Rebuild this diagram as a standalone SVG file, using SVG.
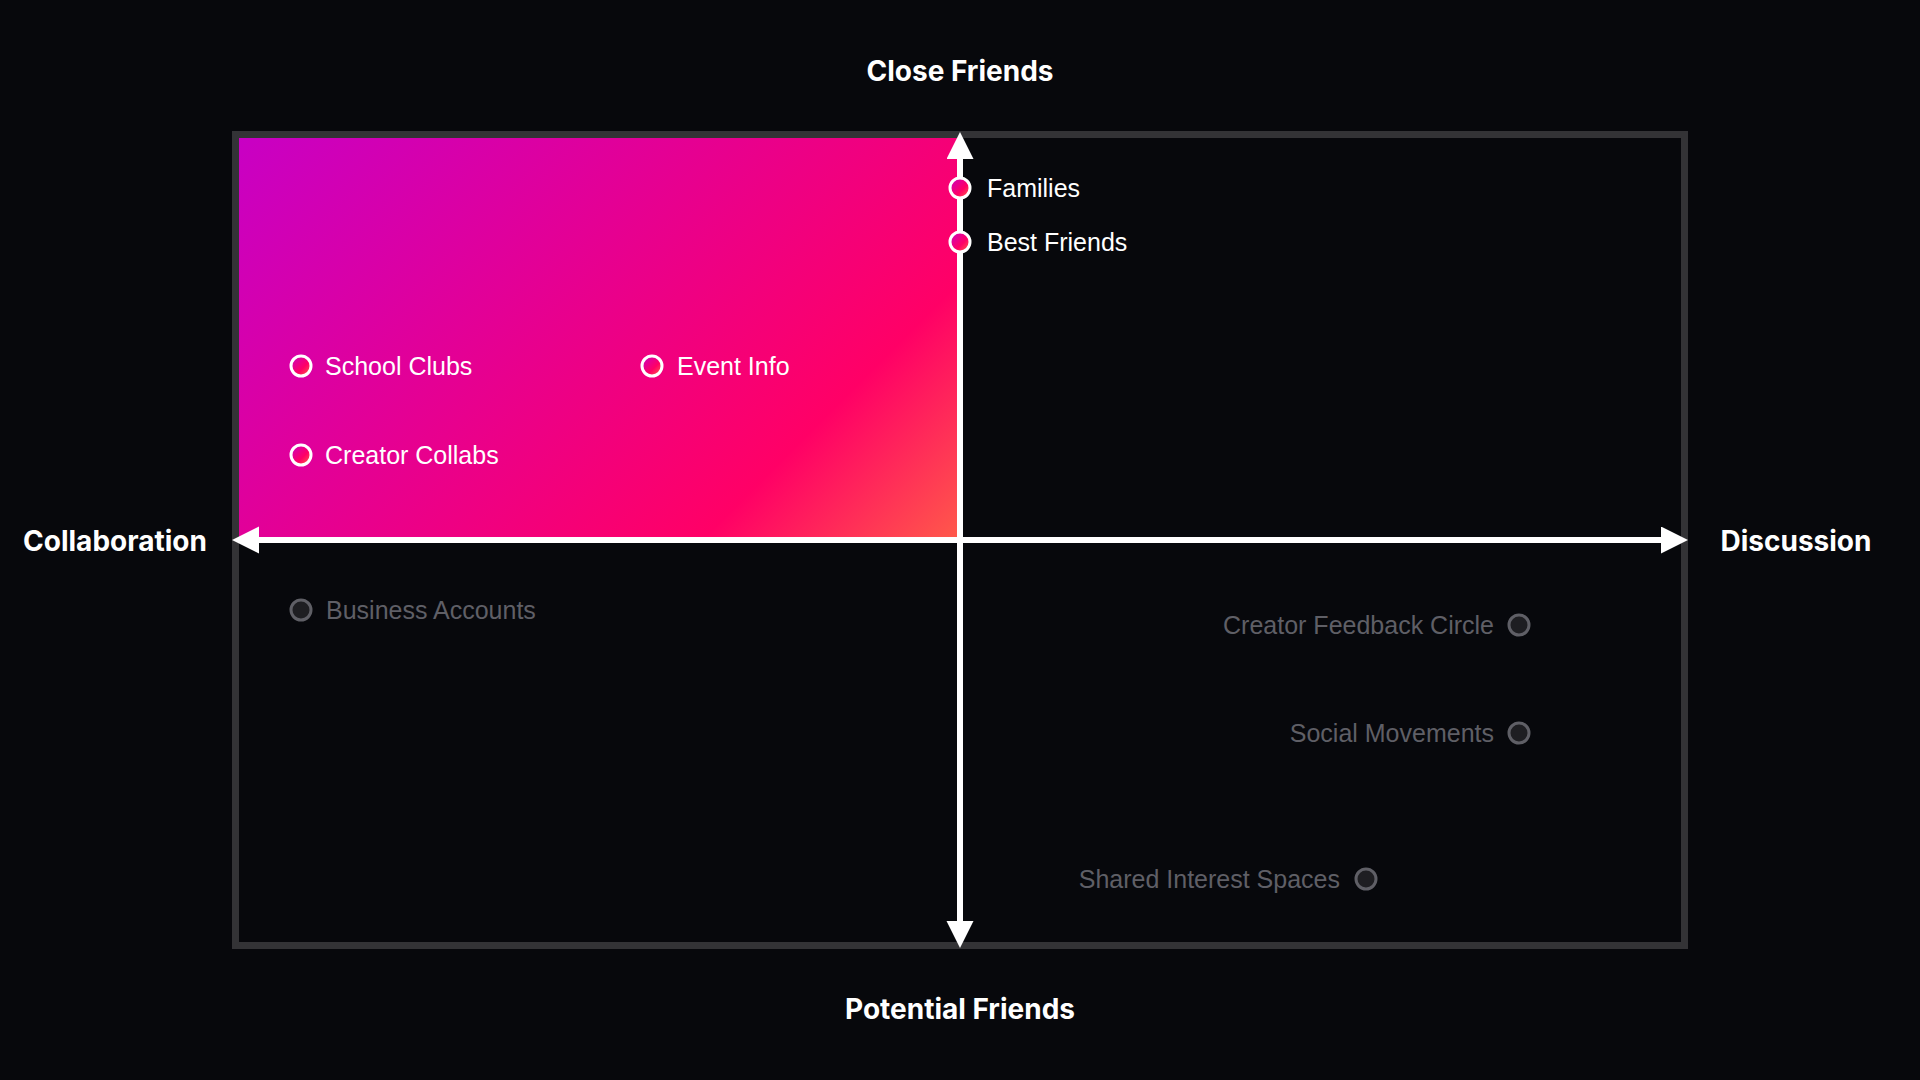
<svg xmlns="http://www.w3.org/2000/svg" width="1920" height="1080" viewBox="0 0 1920 1080">
<defs>
<linearGradient id="quad" gradientUnits="userSpaceOnUse" x1="319" y1="58" x2="880" y2="620">
<stop offset="0" stop-color="#c800c4"/>
<stop offset="0.77" stop-color="#ff0066"/>
<stop offset="1" stop-color="#ff5a4a"/>
</linearGradient>
<linearGradient id="dotg" x1="0" y1="0" x2="1" y2="1">
<stop offset="0" stop-color="#c800c4"/>
<stop offset="0.6" stop-color="#ff0066"/>
<stop offset="1" stop-color="#ff6a40"/>
</linearGradient>
<marker id="arr" markerUnits="userSpaceOnUse" markerWidth="28" markerHeight="28" refX="14" refY="13.5" orient="auto-start-reverse">
<path d="M0,0 L27,13.5 L0,27 Z" fill="#ffffff"/>
</marker>
</defs>
<style>
.axis{font-family:Inter,"Liberation Sans",sans-serif;font-weight:700;font-size:28px;fill:#ffffff}
.lbl{font-family:"Liberation Sans",Arial,sans-serif;font-size:25px;fill:#ffffff}
.dim{font-family:"Liberation Sans",Arial,sans-serif;font-size:25px;fill:#5f5f66}
.dot{fill:url(#dotg);stroke:#ffffff;stroke-width:3}
.ddot{fill:#1e1e22;stroke:#5f5f66;stroke-width:3}
.ax{stroke:#ffffff;stroke-width:6;fill:none}
</style>
<rect width="1920" height="1080" fill="#07080c"/>
<rect x="235.5" y="134.5" width="1449" height="811" fill="none" stroke="#333336" stroke-width="7"/>
<rect x="239" y="138" width="721" height="402" fill="url(#quad)"/>
<g id="axis-labels">
<text class="axis" x="960" y="81" text-anchor="middle">Close Friends</text>
<text class="axis" x="960" y="1019" text-anchor="middle">Potential Friends</text>
<text class="axis" x="115" y="551" text-anchor="middle">Collaboration</text>
<text class="axis" x="1796" y="551" text-anchor="middle">Discussion</text>
</g>
<g id="connectors">
<path class="ax" d="M960,145 L960,935" marker-start="url(#arr)" marker-end="url(#arr)"/>
<path class="ax" d="M245,540 L1675,540" marker-start="url(#arr)" marker-end="url(#arr)"/>
</g>
<g id="node-families"><circle class="dot" cx="960" cy="188" r="10"/><text class="lbl" x="987" y="196.5">Families</text></g>
<g id="node-best-friends"><circle class="dot" cx="960" cy="242" r="10"/><text class="lbl" x="987" y="250.5">Best Friends</text></g>
<g id="node-school-clubs"><circle class="dot" cx="301" cy="366" r="10"/><text class="lbl" x="325" y="374.5">School Clubs</text></g>
<g id="node-event-info"><circle class="dot" cx="652" cy="366" r="10"/><text class="lbl" x="677" y="374.5">Event Info</text></g>
<g id="node-creator-collabs"><circle class="dot" cx="301" cy="455" r="10"/><text class="lbl" x="325" y="463.5">Creator Collabs</text></g>
<g id="node-business-accounts"><circle class="ddot" cx="301" cy="610" r="10"/><text class="dim" x="326" y="618.5">Business Accounts</text></g>
<g id="node-creator-feedback-circle"><circle class="ddot" cx="1519" cy="625" r="10"/><text class="dim" x="1494" y="633.5" text-anchor="end">Creator Feedback Circle</text></g>
<g id="node-social-movements"><circle class="ddot" cx="1519" cy="733" r="10"/><text class="dim" x="1494" y="741.5" text-anchor="end">Social Movements</text></g>
<g id="node-shared-interest-spaces"><circle class="ddot" cx="1366" cy="879" r="10"/><text class="dim" x="1340" y="887.5" text-anchor="end">Shared Interest Spaces</text></g>
</svg>
